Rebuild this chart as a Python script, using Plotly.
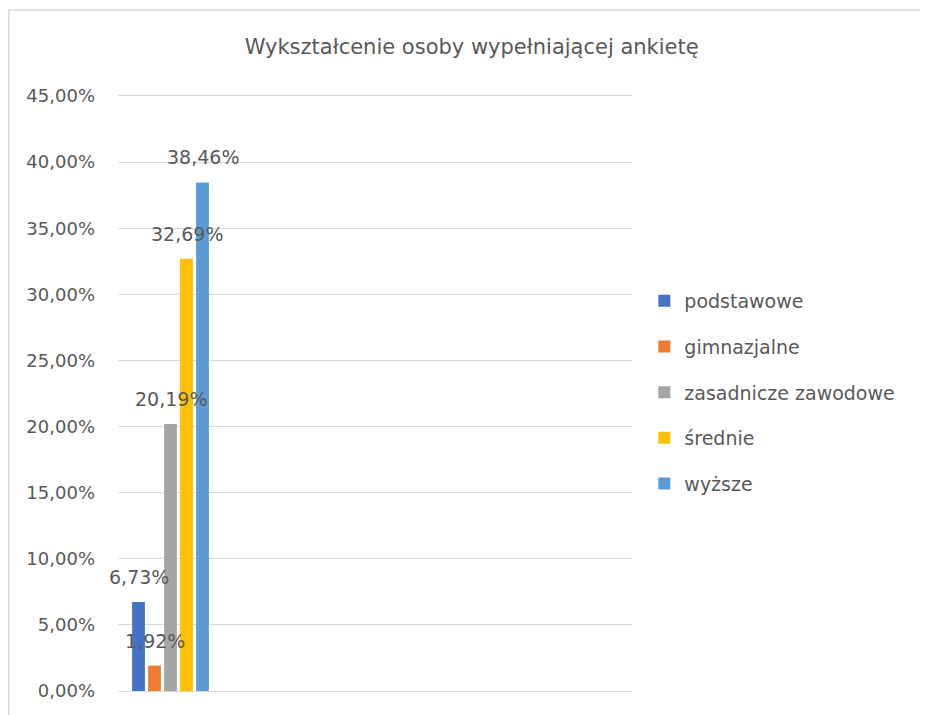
import plotly.graph_objects as go

# Data
categories = ["podstawowe", "gimnazjalne", "zasadnicze zawodowe", "średnie", "wyższe"]
values = [6.73, 1.92, 20.19, 32.69, 38.46]
colors = ["#4472C4", "#ED7D31", "#A5A5A5", "#FFC000", "#5B9BD5"]
y_ticks = [0, 5, 10, 15, 20, 25, 30, 35, 40, 45]
y_tick_labels = [f"{t:.2f}".replace(".", ",") + "%" for t in y_ticks]

title = "Wykształcenie osoby wypełniającej ankietę"
font_family = "DejaVu Sans"
text_color = "#595959"
grid_color = "#D9D9D9"

bargap = 0.2
bargroupgap = 0.2

fig = go.Figure()

for i, (cat, val) in enumerate(zip(categories, values)):
    fig.add_trace(go.Bar(
        x=[0],
        y=[val],
        name=cat,
        legendgroup=cat,
        marker=dict(color=colors[i], line=dict(width=0)),
        hoverinfo="name+y",
    ))

# data labels sit above each bar, like in Excel
n = len(categories)
slot = (1 - bargap) / n
annotations = []
for i, val in enumerate(values):
    xc = -(1 - bargap) / 2 + (i + 0.5) * slot
    annotations.append(dict(
        x=xc, y=val, xref="x", yref="y",
        text=f"{val:.2f}".replace(".", ",") + "%",
        showarrow=False, yanchor="bottom", yshift=12,
        font=dict(family=font_family, size=19, color=text_color),
    ))

# page body has an 8px margin, so the figure is 8px smaller on each axis
fig.update_layout(
    width=920,
    height=707,
    paper_bgcolor="white",
    plot_bgcolor="white",
    barmode="group",
    bargap=bargap,
    bargroupgap=bargroupgap,
    margin=dict(l=110, r=296, t=84, b=24, autoexpand=False),
    title=dict(
        text=title,
        x=0.504, xref="container", xanchor="center",
        y=1 - 39 / 707, yref="container", yanchor="middle",
        font=dict(family=font_family, size=21, color=text_color),
    ),
    font=dict(family=font_family, size=18, color=text_color),
    legend=dict(
        x=1.024, xanchor="left",
        y=0.683, yanchor="top",
        traceorder="grouped",
        tracegroupgap=18,
        font=dict(family=font_family, size=19, color=text_color),
        bgcolor="rgba(0,0,0,0)",
    ),
    annotations=annotations,
    shapes=[dict(
        type="rect", xref="paper", yref="paper",
        x0=(0.8 - 110) / 514, x1=(940 - 110) / 514,
        y0=-0.1, y1=(683 - 2) / 599,
        line=dict(color=grid_color, width=1.5),
        fillcolor="rgba(0,0,0,0)", layer="below",
    )],
    showlegend=True,
)

fig.update_xaxes(
    range=[-0.525, 4.615],
    showticklabels=False,
    showgrid=False,
    zeroline=False,
    showline=False,
    fixedrange=True,
)

fig.update_yaxes(
    range=[0, 45.3],
    tickvals=y_ticks,
    ticktext=y_tick_labels,
    showgrid=True,
    gridcolor=grid_color,
    gridwidth=1,
    zeroline=True,
    zerolinecolor=grid_color,
    zerolinewidth=1,
    showline=False,
    ticklabelstandoff=22,
    tickfont=dict(family=font_family, size=18, color=text_color),
)

fig.write_html("out.html")
